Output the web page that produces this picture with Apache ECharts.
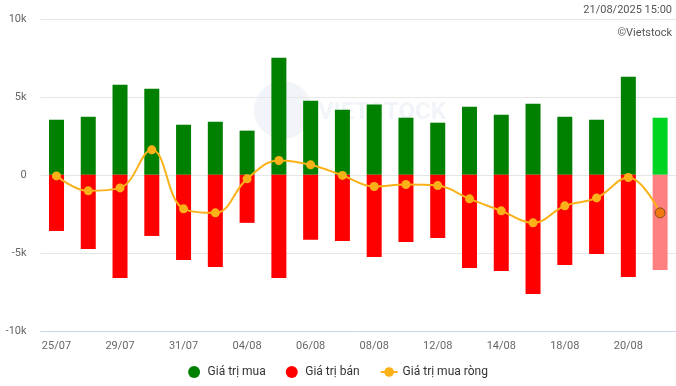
<!DOCTYPE html>
<html>
<head>
<meta charset="utf-8">
<script src="https://cdn.jsdelivr.net/npm/echarts@6/dist/echarts.min.js"></script>
<style>html,body{margin:0;padding:0;background:#fff}#c{width:676px;height:386px}</style>
</head>
<body>
<div id="c"></div>
<script>
const categories = ['25/07','28/07','29/07','30/07','31/07','01/08','04/08','05/08','06/08','07/08','08/08','11/08','12/08','13/08','14/08','15/08','18/08','19/08','20/08','21/08'];
const buyValues = [3530,3720,5780,5520,3210,3400,2830,7510,4750,4170,4500,3660,3340,4370,3850,4560,3720,3530,6290,3660];
const sellValues = [-3600,-4750,-6620,-3920,-5460,-5910,-3080,-6620,-4170,-4240,-5270,-4300,-4050,-5970,-6170,-7640,-5780,-5070,-6550,-6100];
const netValues = [-70,-1030,-840,1600,-2180,-2440,-260,920,640,-40,-750,-620,-690,-1540,-2310,-3080,-1990,-1480,-170,-2440];
const yTicks = { min: -10000, max: 10000, step: 5000 };
const seriesNames = ['Giá trị mua','Giá trị bán','Giá trị mua ròng'];

const last = categories.length - 1;
const buyData = buyValues.map((v,i) => i === last ? {value: v, itemStyle: {color: '#00d423'}} : v);
const sellData = sellValues.map((v,i) => i === last ? {value: v, itemStyle: {color: '#ff8080'}} : v);
const netData = netValues.map((v,i) => i === last ? {value: v, symbolSize: 10, itemStyle: {color: '#f07a10', borderColor: '#8a4a20', borderWidth: 1}} : v);

const chart = echarts.init(document.getElementById('c'), null, {renderer: 'canvas'});
const font = 'Roboto, "Noto Sans", sans-serif';
chart.setOption({
  animation: false,
  backgroundColor: '#fff',
  textStyle: {fontFamily: font},
  graphic: [
    {type: 'circle', shape: {cx: 283, cy: 110, r: 29}, style: {fill: '#f1f4f8'}, z: 0, silent: true},
    {type: 'text', left: 318, top: 101, style: {text: 'VIETSTOCK', fill: '#f1f4f8', font: 'bold 24px ' + font}, z: 0, silent: true},
    {type: 'text', right: 4, top: 5, style: {text: '21/08/2025 15:00', fill: '#555', font: '11px ' + font}, z: 10},
    {type: 'text', right: 4, top: 28, style: {text: '©Vietstock', fill: '#555', font: '11px ' + font}, z: 10}
  ],
  grid: {left: 40.6, right: 0, top: 18.8, bottom: 55.2, containLabel: false},
  legend: {
    show: true,
    bottom: 3,
    left: 'center',
    itemWidth: 17,
    itemHeight: 12,
    itemGap: 20,
    textStyle: {color: '#333', fontSize: 12, fontFamily: font},
    data: [
      {name: seriesNames[0], icon: 'circle', itemStyle: {color: '#008000'}},
      {name: seriesNames[1], icon: 'circle', itemStyle: {color: '#ff0000'}},
      {name: seriesNames[2]}
    ]
  },
  xAxis: {
    type: 'category',
    data: categories,
    boundaryGap: true,
    axisLine: {show: true, onZero: false, lineStyle: {color: '#ccd6eb', width: 1}},
    axisTick: {show: false},
    axisLabel: {interval: 1, color: '#666', fontSize: 11, fontFamily: font, margin: 10},
    splitLine: {show: false}
  },
  yAxis: {
    type: 'value',
    min: yTicks.min,
    max: yTicks.max,
    interval: yTicks.step,
    axisLine: {show: false},
    axisTick: {show: false},
    axisLabel: {
      color: '#666', fontSize: 11, fontFamily: font, margin: 14,
      formatter: v => v === 0 ? '0' : (v / 1000) + 'k'
    },
    splitLine: {show: true, lineStyle: {color: '#e6e6e6', width: 1}}
  },
  series: [
    {
      name: seriesNames[0], type: 'bar', data: buyData, barWidth: 15, barGap: '-100%',
      itemStyle: {color: '#008000'}, z: 2
    },
    {
      name: seriesNames[1], type: 'bar', data: sellData, barWidth: 15, barGap: '-100%',
      itemStyle: {color: '#ff0000'}, z: 2
    },
    {
      name: seriesNames[2], type: 'line', data: netData, smooth: 0.4,
      symbol: 'circle', symbolSize: 9, showSymbol: true,
      lineStyle: {color: '#fbb117', width: 2},
      itemStyle: {color: '#fbb117'}, z: 5
    }
  ]
});
</script>
</body>
</html>
